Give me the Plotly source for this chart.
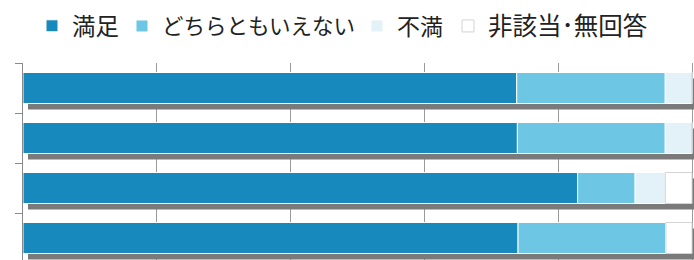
import numpy as np
import plotly.graph_objects as go

# ---- data (rows listed top to bottom) ----
rows = ["項目1", "項目2", "項目3", "項目4"]
series = ["満足", "どちらともいえない", "不満", "非該当･無回答"]
satisfied = [73.8, 73.9, 82.9, 74.0]
neutral = [22.2, 22.1, 8.6, 22.1]
dissatisfied = [4.0, 4.0, 4.5, 0.0]
na = [0.0, 0.0, 4.0, 3.9]

values = [satisfied, neutral, dissatisfied, na]
colors = ["#1889bd", "#6cc6e4", "#e3f1f8", "#ffffff"]
line_colors = ["#ffffff", "#ffffff", "#ffffff", "#d4d4d4"]

W, H = 694, 260
L, T = 23, 63
px_per_unit = 6.69
xmax = (W - L) / px_per_unit
bar_w = 0.62
band_px = 50.0

fig = go.Figure()

# shadow of each stacked bar
totals = np.sum(np.array(values), axis=0)
fig.add_trace(go.Bar(
    y=rows, x=totals, base=5 / px_per_unit, orientation="h",
    width=bar_w, offset=-bar_w / 2 + 6 / band_px,
    marker=dict(color="#7a7a7a", line=dict(width=0)),
    showlegend=False, hoverinfo="skip"))

legend_keys = ["legend", "legend2", "legend3", "legend4"]
cum = np.zeros(len(rows))
for name, vals, c, lc, key in zip(series, values, colors, line_colors, legend_keys):
    fig.add_trace(go.Bar(
        y=rows, x=vals, base=cum.copy(), orientation="h",
        width=bar_w, offset=-bar_w / 2, name=name, legend=key,
        marker=dict(color=c, line=dict(color=lc, width=1)),
        showlegend=True))
    cum = cum + np.array(vals)

# one legend per item so they can be placed like the original
text_starts = [72, 162, 397, 488]
font_sizes = [23.5, 21.5, 23, 24.5]
legend_common = dict(
    orientation="h", xref="container", yref="container",
    yanchor="middle", xanchor="left", y=1 - 26 / H,
    bgcolor="rgba(0,0,0,0)", borderwidth=0, itemclick=False, itemdoubleclick=False)
legends = {}
for key, ts, fs in zip(legend_keys, text_starts, font_sizes):
    legends[key] = dict(legend_common, x=(ts - 40) / W,
                        font=dict(family="Noto Sans CJK JP, Noto Sans", size=fs,
                                  color="#222222"))

fig.update_layout(
    width=W, height=H,
    margin=dict(l=L, r=0, t=T, b=0, autoexpand=False),
    paper_bgcolor="white", plot_bgcolor="white",
    barmode="overlay",
    showlegend=True,
    xaxis=dict(range=[0, xmax], dtick=20, tick0=0, showgrid=True,
               gridcolor="#9a9a9a", gridwidth=1, zeroline=False,
               showline=False, showticklabels=False, ticks=""),
    yaxis=dict(type="category", categoryorder="array", categoryarray=rows,
               autorange=False,
               range=[-0.5 + (H - T) / band_px, -0.5],
               showline=True, linecolor="#8a8a8a", linewidth=1,
               ticks="outside", ticklen=7, tickcolor="#8a8a8a",
               tickson="boundaries", showticklabels=False, showgrid=False,
               zeroline=False),
    **legends,
)

fig.write_html("out.html", config={"displayModeBar": False},
               post_script="document.body.style.margin='0';")
